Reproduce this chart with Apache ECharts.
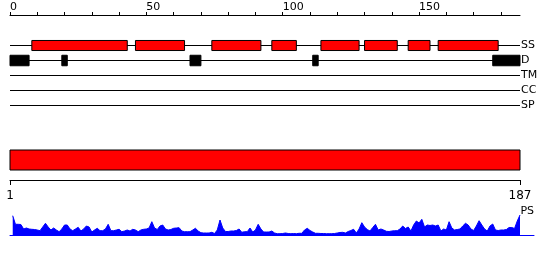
<!DOCTYPE html>
<html>
<head>
<meta charset="utf-8">
<script src="https://cdn.jsdelivr.net/npm/echarts@6/dist/echarts.min.js"></script>
<style>
html,body{margin:0;padding:0;background:#fff;}
#chart{width:550px;height:260px;}
</style>
</head>
<body>
<div id="chart"></div>
<script>
// ---- data ----
const topTicks = [0,10,20,30,40,50,60,70,80,90,100,110,120,130,140,150,160,170,180];
const topTickLabels = [0,50,100,150];
const tracks = ['SS','D','TM','CC','SP'];
const ssSegments = [[8,43],[46,64],[74,92],[96,105],[114,128],[130,142],[146,154],[157,179]];
const dSegments = [[0,7],[19,21],[66,70],[111,113],[177,187]];
const seqLength = 187;
const domainRange = [1,187];
const bottomTickLabels = [1,187];
const psValues = [
19.3,10.7,10.7,10.5,6,7,6,5.7,5.5,5,
4.3,8,11.7,8,5,7,5,3.3,6,10,
10,6,4.3,6,7.7,4,6,9,8,3,
5,6.7,4.3,4.3,6,10.7,4.3,4.3,5,5.7,
3.3,4,5,4,5.7,5,3.3,5,5.7,6,
7,13.3,7,5.5,9,10,6,5,5.5,6.7,
7,7.3,4,3.3,3.3,3.3,5,6.7,4,2.3,
2,2,2,2.7,1.5,5,15,7,3.5,3.5,
4,4,4.5,6,2.7,3.3,3.3,7,3,5,
10.7,6,3,3,3,4,2,1.3,1.3,1.5,
2,1.5,1.3,1.5,1.3,1.7,1.7,5,6.7,4.5,
3,1.7,1.7,1.5,1.5,1.3,1.3,1.3,1.5,2,
2.5,2.7,2,3.5,4.5,5.7,2,6,12.3,8,
5.5,4,7.5,10.7,5,6,5,3.7,3.5,4,
4.3,4.3,6,9,6.5,8,4,10,14,12,
15.7,8,10,9.5,10,9,10,4,6,5,
13.3,7,5,5.5,6,9,11.7,10,6,4.5,
9,14.3,10,6,4,9,11,5,4.5,5,
5,5.5,7.5,7.5,6.5,14,20
];

const chart = echarts.init(document.getElementById('chart'), null, {renderer:'canvas'});
const psData = psValues.map((v,i)=>[i+1, v]);
const segRender = (fill, stroke, frac) => function(params, api){
  const s = api.coord([api.value(0), api.value(2)]);
  const e = api.coord([api.value(1), api.value(2)]);
  const h = api.size([0,1])[1]*frac;
  return {type:'rect', shape:{x:s[0], y:s[1]-h/2, width:e[0]-s[0], height:h},
    style:{fill:fill, stroke:stroke, lineWidth:1}};
};
const lineRender = function(params, api){
  const s = api.coord([api.value(0), api.value(2)]);
  const e = api.coord([api.value(1), api.value(2)]);
  return {type:'line', shape:{x1:s[0], y1:s[1], x2:e[0], y2:e[1]},
    style:{stroke:'#000', lineWidth:1}};
};
const txt = {color:'#000', fontFamily:'DejaVu Sans'};

chart.setOption({
  animation:false,
  grid:[
    {left:10, width:510, top:38, height:75, outerBoundsMode:'none', containLabel:false},
    {left:10, width:510, top:150, height:20, outerBoundsMode:'none', containLabel:false},
    {left:10, width:524, top:215, height:20, outerBoundsMode:'none', containLabel:false}
  ],
  xAxis:[
    {gridIndex:0, type:'value', position:'top', offset:23, min:0, max:seqLength,
     axisLine:{show:true, onZero:false, lineStyle:{color:'#000', width:1}},
     axisTick:{show:true, length:3, customValues:topTicks, lineStyle:{color:'#000'}},
     axisLabel:{show:true, customValues:topTickLabels, align:'left', margin:2, fontSize:11, ...txt},
     splitLine:{show:false}},
    {gridIndex:1, type:'value', position:'bottom', offset:10, min:domainRange[0], max:domainRange[1],
     axisLine:{show:true, onZero:false, lineStyle:{color:'#000', width:1}},
     axisTick:{show:true, length:5, customValues:bottomTickLabels, lineStyle:{color:'#000'}},
     axisLabel:{show:true, customValues:bottomTickLabels, margin:10, fontSize:12, ...txt},
     splitLine:{show:false}},
    {gridIndex:2, type:'value', min:0, max:seqLength*524/510,
     axisLine:{show:true, onZero:false, lineStyle:{color:'#0000ff', width:1}},
     axisTick:{show:false}, axisLabel:{show:false}, splitLine:{show:false}}
  ],
  yAxis:[
    {gridIndex:0, type:'category', data:tracks, inverse:true, position:'right',
     axisLine:{show:false, onZero:false}, axisTick:{show:false},
     axisLabel:{margin:1, fontSize:11, ...txt}, splitLine:{show:false}},
    {gridIndex:1, type:'value', min:0, max:1, show:false},
    {gridIndex:2, type:'value', min:0, max:20, position:'right',
     name:'PS', nameLocation:'end', nameGap:-2,
     nameTextStyle:{align:'right', verticalAlign:'bottom', fontSize:11, ...txt},
     axisLine:{show:false, onZero:false}, axisTick:{show:false}, axisLabel:{show:false}, splitLine:{show:false}}
  ],
  series:[
    {type:'custom', xAxisIndex:0, yAxisIndex:0, renderItem:lineRender,
     encode:{x:[0,1], y:2}, data:tracks.map((t,i)=>[0, seqLength, i]), z:1},
    {type:'custom', xAxisIndex:0, yAxisIndex:0, renderItem:segRender('#ff0000','#000',0.67),
     encode:{x:[0,1], y:2}, data:ssSegments.map(s=>[s[0], s[1], 0]), z:2},
    {type:'custom', xAxisIndex:0, yAxisIndex:0, renderItem:segRender('#000','#000',0.7),
     encode:{x:[0,1], y:2}, data:dSegments.map(s=>[s[0], s[1], 1]), z:2},
    {type:'custom', xAxisIndex:1, yAxisIndex:1,
     renderItem:function(params, api){
       const a = api.coord([api.value(0), 1]);
       const b = api.coord([api.value(1), 0]);
       return {type:'rect', shape:{x:a[0], y:a[1], width:b[0]-a[0], height:b[1]-a[1]},
         style:{fill:'#ff0000', stroke:'#000', lineWidth:1}};
     },
     encode:{x:[0,1]}, data:[[domainRange[0], domainRange[1]]]},
    {type:'line', xAxisIndex:2, yAxisIndex:2, data:psData, showSymbol:false,
     lineStyle:{color:'#0000ff', width:1}, areaStyle:{color:'#0000ff', opacity:1},
     itemStyle:{color:'#0000ff'}}
  ]
});
</script>
</body>
</html>
